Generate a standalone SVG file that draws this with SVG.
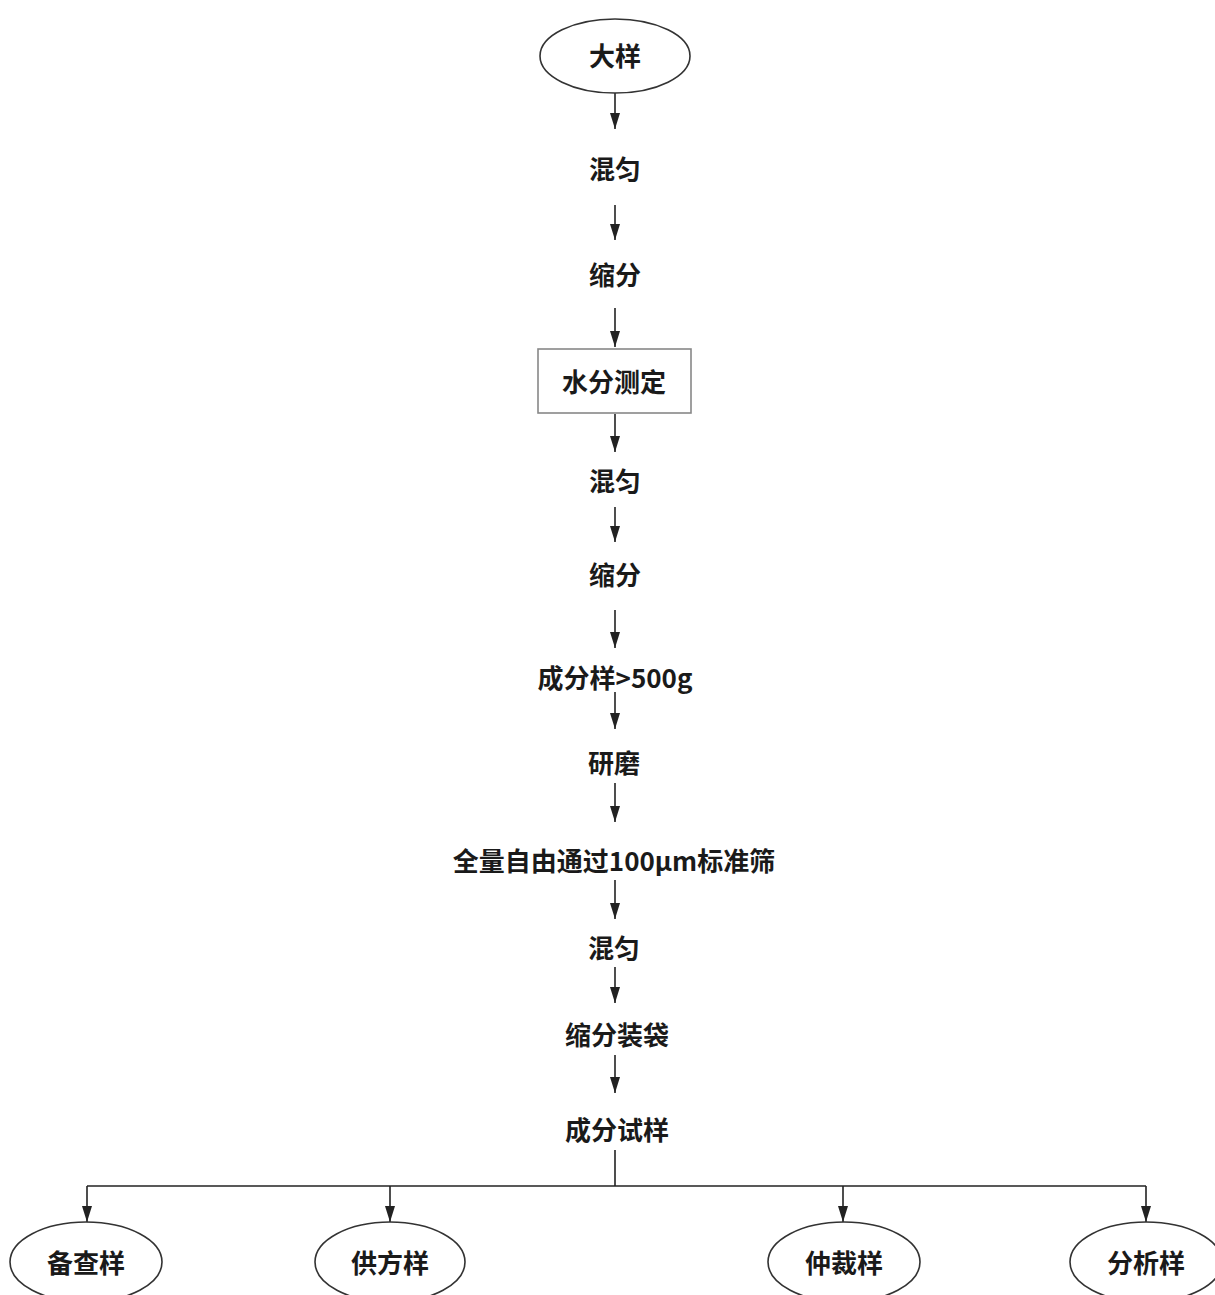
<svg xmlns="http://www.w3.org/2000/svg" width="1215" height="1295" viewBox="0 0 1215 1295">
<style>
.t{font-family:"Noto Sans CJK SC","Noto Sans",sans-serif;font-weight:bold;font-size:26px;fill:#1a1a1a;text-anchor:middle;dominant-baseline:central}
.sh{fill:#fff;stroke:#333;stroke-width:1.6}
.bx{fill:#fff;stroke:#888;stroke-width:1.6}
.ln{fill:none;stroke:#222;stroke-width:1.6}
</style>
<defs>
<marker id="ah" markerWidth="16" markerHeight="10" refX="16" refY="5" orient="auto" markerUnits="userSpaceOnUse" viewBox="0 0 16 10">
<path d="M0,0 L16,5 L0,10 Z" fill="#222"/>
</marker>
</defs>
<rect width="1215" height="1295" fill="#fff"/>
<g id="connectors">
<path class="ln" d="M615,93 V129" marker-end="url(#ah)"/>
<path class="ln" d="M615,205 V240" marker-end="url(#ah)"/>
<path class="ln" d="M615,308 V347" marker-end="url(#ah)"/>
<path class="ln" d="M615,414 V452" marker-end="url(#ah)"/>
<path class="ln" d="M615,507 V542" marker-end="url(#ah)"/>
<path class="ln" d="M615,610 V648" marker-end="url(#ah)"/>
<path class="ln" d="M615,692 V729" marker-end="url(#ah)"/>
<path class="ln" d="M615,783 V822" marker-end="url(#ah)"/>
<path class="ln" d="M615,880 V919" marker-end="url(#ah)"/>
<path class="ln" d="M615,967 V1003" marker-end="url(#ah)"/>
<path class="ln" d="M615,1055 V1093" marker-end="url(#ah)"/>
<path class="ln" d="M615,1150 V1186"/>
<path class="ln" d="M87,1186 H1146"/>
<path class="ln" d="M87,1186 V1222" marker-end="url(#ah)"/>
<path class="ln" d="M390,1186 V1222" marker-end="url(#ah)"/>
<path class="ln" d="M843,1186 V1222" marker-end="url(#ah)"/>
<path class="ln" d="M1146,1186 V1222" marker-end="url(#ah)"/>
</g>
<g id="n-dayang"><ellipse class="sh" cx="615" cy="56" rx="75" ry="37"/><text class="t" x="615" y="54">大样</text></g>
<g id="n-hunyun1"><text class="t" x="615" y="167">混匀</text></g>
<g id="n-suofen1"><text class="t" x="615" y="273">缩分</text></g>
<g id="n-shuifen"><rect class="bx" x="538" y="349" width="153" height="64"/><text class="t" x="614" y="380">水分测定</text></g>
<g id="n-hunyun2"><text class="t" x="615" y="479">混匀</text></g>
<g id="n-suofen2"><text class="t" x="615" y="573">缩分</text></g>
<g id="n-chengfenyang"><text class="t" x="615" y="676">成分样&gt;500g</text></g>
<g id="n-yanmo"><text class="t" x="614" y="761">研磨</text></g>
<g id="n-quanliang"><text class="t" x="614" y="859">全量自由通过100μm标准筛</text></g>
<g id="n-hunyun3"><text class="t" x="614" y="946">混匀</text></g>
<g id="n-suofenzhuangdai"><text class="t" x="617" y="1033">缩分装袋</text></g>
<g id="n-chengfenshiyang"><text class="t" x="617" y="1128">成分试样</text></g>
<g id="n-beichayang"><ellipse class="sh" cx="86" cy="1262" rx="76" ry="40"/><text class="t" x="86" y="1261">备查样</text></g>
<g id="n-gongfangyang"><ellipse class="sh" cx="390" cy="1262" rx="75" ry="40"/><text class="t" x="390" y="1261">供方样</text></g>
<g id="n-zhongcaiyang"><ellipse class="sh" cx="844" cy="1262" rx="76" ry="40"/><text class="t" x="844" y="1261">仲裁样</text></g>
<g id="n-fenxiyang"><ellipse class="sh" cx="1146" cy="1262" rx="76" ry="40"/><text class="t" x="1146" y="1261">分析样</text></g>
</svg>
